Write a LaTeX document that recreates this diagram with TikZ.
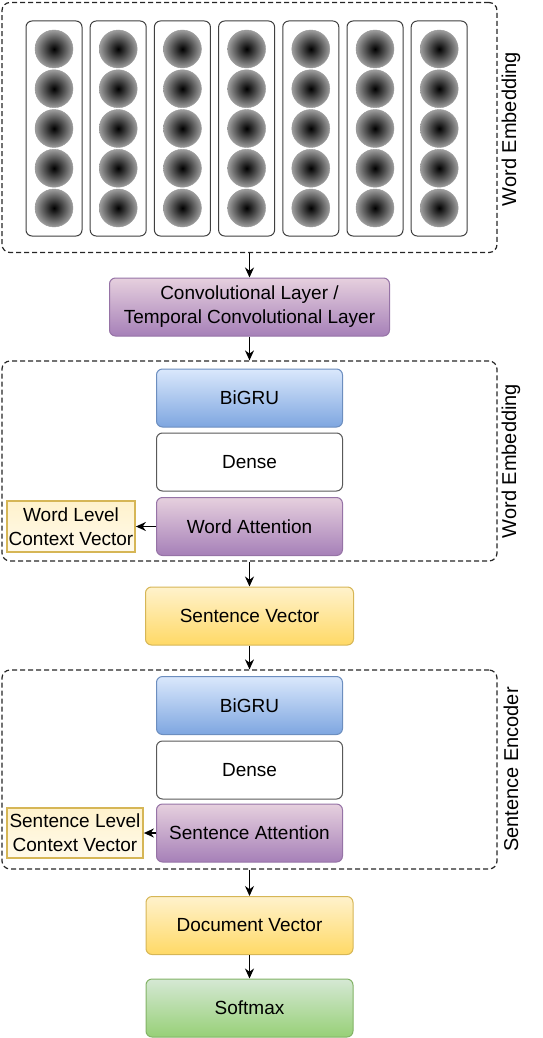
\documentclass[tikz,border=0pt]{standalone}
\usepackage{fontspec}
\setmainfont{Liberation Sans}
\usetikzlibrary{arrows.meta}
\definecolor{purpletop}{HTML}{E6D0DE}
\definecolor{purplebot}{HTML}{A680B8}
\definecolor{purpleline}{HTML}{9673A6}
\definecolor{bluetop}{HTML}{DAE8FC}
\definecolor{bluebot}{HTML}{7EA6E0}
\definecolor{blueline}{HTML}{6C8EBF}
\definecolor{yellowtop}{HTML}{FFF2CC}
\definecolor{yellowbot}{HTML}{FFD966}
\definecolor{yellowline}{HTML}{D6B656}
\definecolor{greentop}{HTML}{D5E8D4}
\definecolor{greenbot}{HTML}{97D077}
\definecolor{greenline}{HTML}{82B366}
\begin{document}
\begin{tikzpicture}[x=1pt,y=-1pt,
  every node/.style={font=\fontsize{19}{24}\selectfont},
  layer/.style={draw,rounded corners=6pt,minimum height=58pt,align=center,inner sep=0pt,line width=1pt},
  purplebox/.style={layer,top color=purpletop,bottom color=purplebot,draw=purpleline},
  bluebox/.style={layer,top color=bluetop,bottom color=bluebot,draw=blueline},
  yellowbox/.style={layer,top color=yellowtop,bottom color=yellowbot,draw=yellowline},
  greenbox/.style={layer,top color=greentop,bottom color=greenbot,draw=greenline},
  densebox/.style={layer,fill=white,draw=black!65},
  ctxbox/.style={draw=yellowline,line width=1.8pt,top color=yellowtop,bottom color=yellowtop!40,align=center,inner sep=0pt},
  group/.style={draw=black!85,dash pattern=on 5pt off 3pt,rounded corners=8pt,line width=1.2pt,minimum width=495pt},
  column/.style={draw=black!75,rounded corners=6pt,fill=white,minimum width=56pt,minimum height=215pt,line width=1pt},
  unit/.style={circle,draw=black!40,inner color=black,outer color=black!38,minimum size=38pt,inner sep=0pt},
  sidelabel/.style={rotate=90,font=\fontsize{20}{24}\selectfont},
  arr/.style={-{Stealth[length=10pt,width=9pt]},line width=1.4pt}]
\useasboundingbox (0,0) rectangle (542,1038);

% word embedding
\node[group,minimum height=250pt] (grpemb) at (249.5,127.5) {};
\node[sidelabel] (lblemb) at (511,129) {Word Embedding};
\foreach \i in {1,...,7} {
  \node[column] (col\i) at (54+64.2*\i-64.2,128.5) {};
  \foreach \j in {1,...,5}
    \node[unit] (u\i\j) at (54+64.2*\i-64.2,49+39.75*\j-39.75) {};
}

\node[purplebox,minimum width=280pt] (conv) at (249.5,307) {Convolutional Layer /\\Temporal Convolutional Layer};

% word encoder
\node[group,minimum height=200pt] (grpword) at (249.5,461) {};
\node[sidelabel] (lblword) at (511,461) {Word Embedding};
\node[bluebox,minimum width=186pt] (wgru) at (249.5,398) {BiGRU};
\node[densebox,minimum width=186pt] (wdense) at (249.5,462) {Dense};
\node[purplebox,minimum width=186pt] (watt) at (249.5,526.5) {Word Attention};
\node[ctxbox,minimum width=128pt,minimum height=51pt] (wctx) at (71,526.5) {Word Level\\Context Vector};

\node[yellowbox,minimum width=208pt] (sentvec) at (249.5,616) {Sentence Vector};

% sentence encoder
\node[group,minimum height=199pt] (grpsent) at (249.5,769.5) {};
\node[sidelabel] (lblsent) at (511,769.5) {Sentence Encoder};
\node[bluebox,minimum width=186pt] (sgru) at (249.5,705.5) {BiGRU};
\node[densebox,minimum width=186pt] (sdense) at (249.5,770) {Dense};
\node[purplebox,minimum width=186pt] (satt) at (249.5,833) {Sentence Attention};
\node[ctxbox,minimum width=136pt,minimum height=50pt] (sctx) at (75,833) {Sentence Level\\Context Vector};

\node[yellowbox,minimum width=207pt] (docvec) at (249.5,925.5) {Document Vector};
\node[greenbox,minimum width=207pt] (soft) at (249.5,1008) {Softmax};

\draw[arr] (grpemb.south) -- (conv.north);
\draw[arr] (conv.south) -- (grpword.north);
\draw[arr] (watt.west) -- (wctx.east);
\draw[arr] (grpword.south) -- (sentvec.north);
\draw[arr] (sentvec.south) -- (grpsent.north);
\draw[arr] (satt.west) -- (sctx.east);
\draw[arr] (grpsent.south) -- (docvec.north);
\draw[arr] (docvec.south) -- (soft.north);
\end{tikzpicture}
\end{document}
